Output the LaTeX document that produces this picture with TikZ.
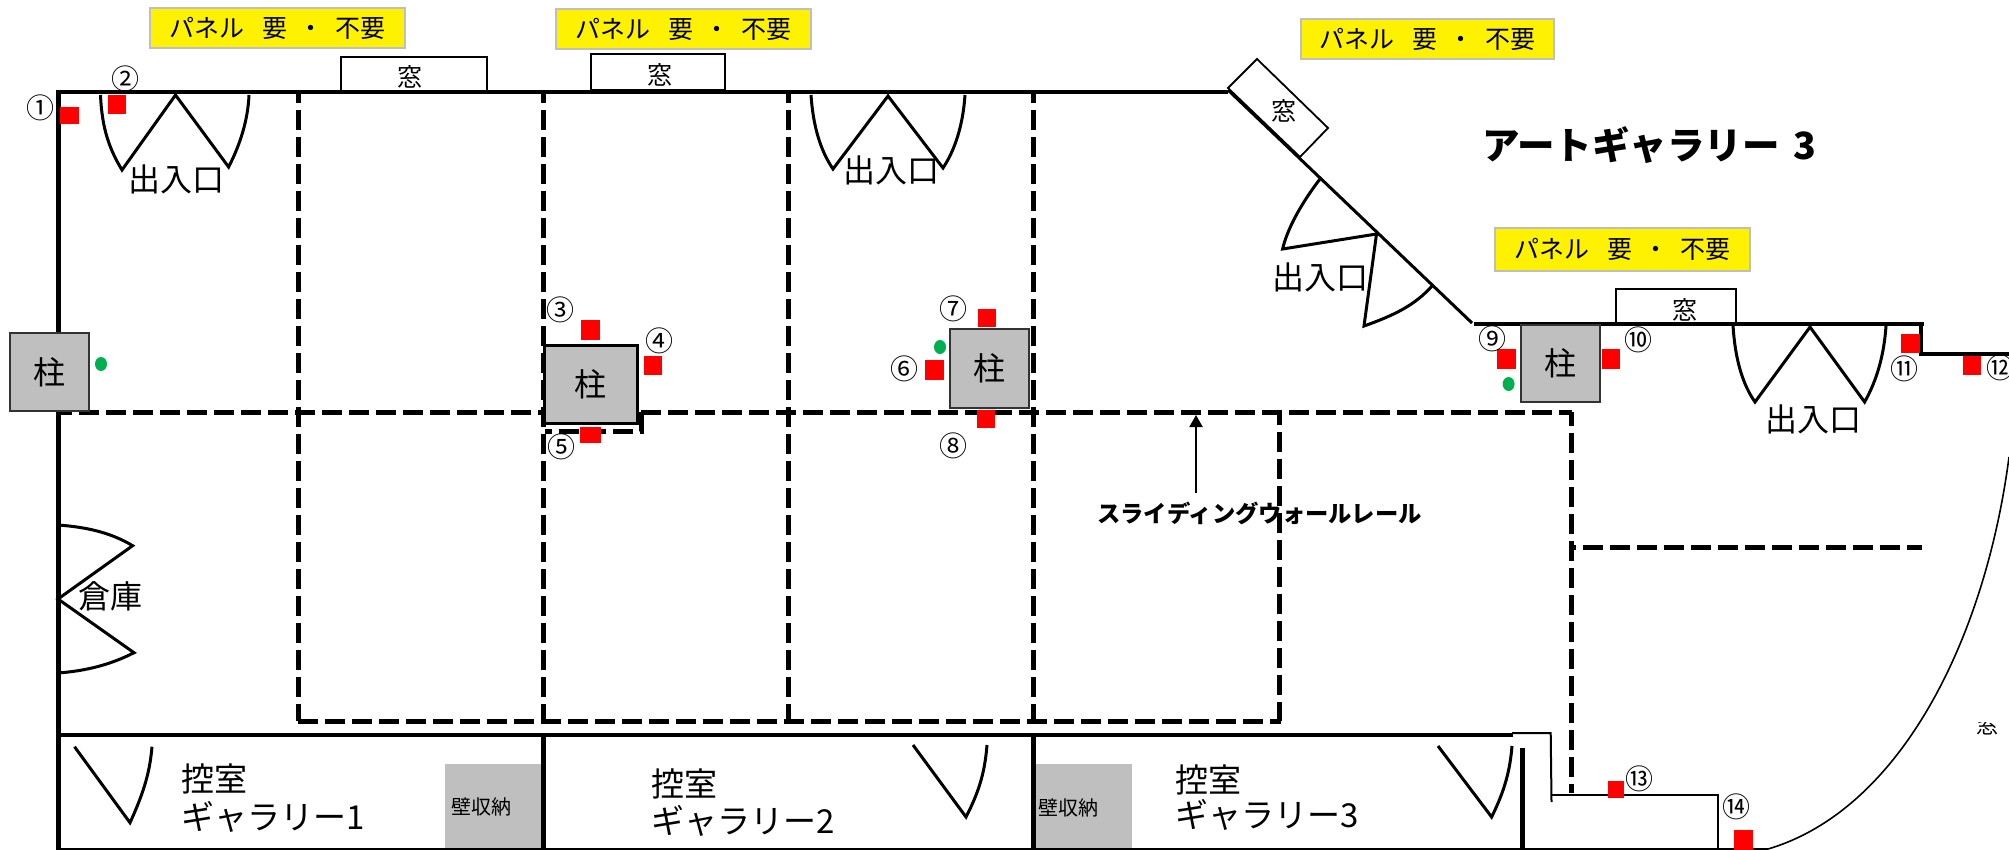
\documentclass[tikz,border=0pt]{standalone}
\usepackage{fontspec}
\setmainfont{Noto Sans CJK JP}
\usetikzlibrary{arrows.meta}
\newcommand{\jpsize}[1]{\fontsize{#1}{#1}\selectfont}
\newcommand{\paneltext}{\raisebox{-5pt}{パネル\hspace{18pt}要\hspace{11pt}・\hspace{12pt}不要}}
\tikzset{
  every node/.style={inner sep=0pt,text=black},
  wall/.style={line width=4.8pt,draw=black},
  thinwall/.style={line width=2pt,draw=black},
  door/.style={line width=3pt,draw=black,line join=miter},
  rail/.style={line width=5pt,draw=black,dash pattern=on 20pt off 7pt},
  windowbox/.style={line width=1.8pt,draw=black,fill=white},
  panelbox/.style={draw=black!25,line width=2pt,fill=yellow,font=\jpsize{25}},
  pillar/.style={fill=black!25,draw=black!80,line width=2.4pt},
  pillarlabel/.style={font=\jpsize{32}},
  redmark/.style={fill=red},
  greendot/.style={fill={rgb,255:red,0;green,176;blue,80}},
  num/.style={font=\jpsize{28}},
  winlabel/.style={font=\jpsize{25}},
  doorlabel/.style={font=\jpsize{32}},
  roomlabel/.style={font=\jpsize{33},align=left},
  storebox/.style={fill=black!25},
  storelabel/.style={font=\jpsize{20}},
}
\begin{document}
\begin{tikzpicture}[x=1pt,y=-1pt]
\useasboundingbox (0,0) rectangle (2009,850);
\fill[white] (0,0) rectangle (2009,850);

% storage boxes
\fill[storebox] (445,764) rectangle (541,849);
\fill[storebox] (1036,764) rectangle (1132,849);

% sliding rails
\draw[rail,dash phase=6] (58,412) -- (545,412);
\draw[rail] (641,412) -- (1572,412);
\draw[rail] (641,412) -- (641,431) -- (545,431);
\draw[rail,dash phase=9] (298,92) -- (298,721);
\draw[rail,dash phase=9] (543,92) -- (543,721);
\draw[rail,dash phase=9] (788,92) -- (788,721);
\draw[rail,dash phase=9] (1033,92) -- (1033,721);
\draw[rail] (298,721) -- (1281,721);
\draw[rail,dash phase=7] (1279,412) -- (1279,721);
\draw[rail,dash phase=6] (1571.5,412) -- (1571.5,793);
\draw[rail,dash phase=16] (1571.5,547) -- (1922,547);

% windows
\draw[windowbox] (341,57) rectangle (487,91);
\draw[windowbox] (591,54) rectangle (725,90);
\draw[windowbox] (1228,88) -- (1257,59) -- (1328,128) -- (1300,157) -- cycle;
\draw[windowbox] (1616,289) rectangle (1736,323);

% walls
\draw[wall] (56,92) -- (1228,92);
\draw[line width=3pt] (1228,90) -- (1472,323);
\draw[wall] (1474,324) -- (1924,324);
\draw[wall,line cap=rect] (1921,324) -- (1921,354) -- (2009,354);
\draw[line width=5pt] (58.5,90) -- (58.5,850);
\draw[wall] (56,735) -- (1512.5,735);
\draw[line width=5pt] (543,735) -- (543,850);
\draw[line width=5pt] (1033,735) -- (1033,850);
\draw[line width=5pt] (1522,748) -- (1522,850);
\draw[line width=1.6pt] (56,849) -- (1768,849);
\draw[thinwall] (1512,733) -- (1550.7,733) -- (1551.5,802);
\draw[thinwall] (1551,795) -- (1718,795) -- (1718,850);
\draw[line width=1.6pt] (1768,849) .. controls (1900,810) and (1985,640) .. (2009,457);

% doors
\draw[door] (100.5,95) .. controls (102,130) and (110,150) .. (122,170) -- (175.5,95) -- (228.6,167) .. controls (240,145) and (248,120) .. (249,95);
\draw[door] (811,95) .. controls (813,125) and (820,150) .. (833,169) -- (888,96) -- (943,168) .. controls (955,150) and (963,125) .. (965,95);
\draw[door] (1320,179) .. controls (1300,205) and (1287,230) .. (1282.6,249) -- (1376.5,234) -- (1364,326) .. controls (1395,315) and (1415,305) .. (1432,286);
\draw[door] (1733,325) .. controls (1735,360) and (1743,385) .. (1755,402) -- (1810,327) -- (1864.6,402) .. controls (1877,380) and (1884,355) .. (1886,326);
\draw[door] (58,525) .. controls (85,527) and (110,532) .. (132.6,545.7) -- (58,599) -- (134,652.7) .. controls (110,665) and (85,671) .. (58,673);
\draw[door] (74.5,746.7) -- (130,822.7) .. controls (145,790) and (150,770) .. (152,746.7);
\draw[door] (913,745) -- (966,817) .. controls (980,790) and (985,770) .. (987,745);
\draw[door] (1438,746) -- (1491.6,817) .. controls (1505,790) and (1510,770) .. (1512,746);

% pillars
\node[pillar,minimum width=79pt,minimum height=78pt,pillarlabel] (p1) at (49.5,372) {柱};
\node[pillar,draw=black,line width=3pt,minimum width=93pt,minimum height=78pt,pillarlabel] (p2) at (590.5,384) {柱};
\node[pillar,minimum width=79pt,minimum height=79pt,pillarlabel] (p3) at (989.5,368.5) {柱};
\node[pillar,minimum width=79pt,minimum height=77pt,pillarlabel] (p4) at (1560.5,363.5) {柱};

% yellow panels
\node[panelbox,minimum width=255pt,minimum height=40pt] (y1) at (277.5,28) {\paneltext};
\node[panelbox,minimum width=255pt,minimum height=40pt] (y2) at (683,29) {\paneltext};
\node[panelbox,minimum width=253pt,minimum height=40pt] (y3) at (1427,39) {\paneltext};
\node[panelbox,minimum width=255pt,minimum height=43pt] (y4) at (1622,249.5) {\raisebox{-3pt}{\paneltext}};

% window labels
\node[winlabel] (w1) at (410,77) {窓};
\node[winlabel] (w2) at (660,75) {窓};
\node[winlabel] (w3) at (1284,111) {窓};
\node[winlabel] (w4) at (1685,310) {窓};
\begin{scope}
\clip (1970,722) rectangle (2005,735);
\node[font=\jpsize{22}] (w5) at (1987.5,725) {窓};
\end{scope}

% door labels
\node[doorlabel] (d1) at (176,179) {出入口};
\node[doorlabel] (d2) at (891,170) {出入口};
\node[doorlabel] (d3) at (1320,277) {出入口};
\node[doorlabel] (d4) at (1813,419) {出入口};
\node[doorlabel] (d5) at (110,596) {倉庫};

% title
\node[anchor=west,font=\jpsize{37.5}\bfseries] (title) at (1482,145) {アートギャラリー\hspace{14pt}3};

% rail label + arrow
\node[font=\jpsize{23.3}\bfseries] (raillabel) at (1259.5,513) {スライディングウォールレール};
\coordinate (arrowfrom) at (1196,493);
\coordinate (arrowto) at (1196,415);
\draw[line width=2pt,-{Triangle[length=12pt,width=13pt]}] (arrowfrom) -- (arrowto);

% rooms
\node[roomlabel,anchor=west] (r1a) at (181,779) {控室};
\node[roomlabel,anchor=west] (r1b) at (181,817) {ギャラリー1};
\node[roomlabel,anchor=west] (r2a) at (651,784) {控室};
\node[roomlabel,anchor=west] (r2b) at (651,821) {ギャラリー2};
\node[roomlabel,anchor=west] (r3a) at (1175,780) {控室};
\node[roomlabel,anchor=west] (r3b) at (1175,815) {ギャラリー3};
\node[storelabel] (s1) at (481,807) {壁収納};
\node[storelabel] (s2) at (1068,808) {壁収納};

% red marks
\fill[redmark] (60,107) rectangle (79,124);
\fill[redmark] (108,95) rectangle (126,114);
\fill[redmark] (581,320) rectangle (600,340);
\fill[redmark] (644,356) rectangle (662,375);
\fill[redmark] (580,427) rectangle (601,443);
\fill[redmark] (925,360) rectangle (944,380);
\fill[redmark] (978,309) rectangle (996,327);
\fill[redmark] (977,410) rectangle (995,428);
\fill[redmark] (1497,349) rectangle (1516,369);
\fill[redmark] (1601.5,349) rectangle (1620,369);
\fill[redmark] (1901,334) rectangle (1920,353);
\fill[redmark] (1963,356) rectangle (1981,375);
\fill[redmark] (1608,781) rectangle (1624,798);
\fill[redmark] (1734,830) rectangle (1753,850);

% green dots
\fill[greendot] (101,364) ellipse [x radius=6,y radius=7];
\fill[greendot] (940,347) ellipse [x radius=6,y radius=7];
\fill[greendot] (1508.6,384) ellipse [x radius=6,y radius=7];

% numbers
\node[num] (n1) at (40,108) {①};
\node[num] (n2) at (125,79) {②};
\node[num] (n3) at (560.5,310) {③};
\node[num] (n4) at (659,341) {④};
\node[num] (n5) at (561,447) {⑤};
\node[num] (n6) at (904,369) {⑥};
\node[num] (n7) at (953,309) {⑦};
\node[num] (n8) at (953,446) {⑧};
\node[num] (n9) at (1492,339) {⑨};
\node[num] (n10) at (1638.6,340) {⑩};
\node[num] (n11) at (1904,369) {⑪};
\node[num] (n12) at (2000,368) {⑫};
\node[num] (n13) at (1639,779) {⑬};
\node[num] (n14) at (1736,807) {⑭};
\end{tikzpicture}
\end{document}
